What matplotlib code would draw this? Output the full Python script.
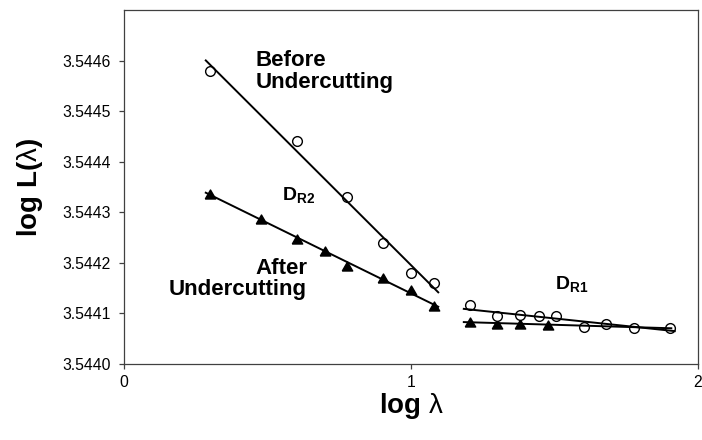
import numpy as np
import matplotlib
matplotlib.use('Agg')
import matplotlib.pyplot as plt

# 字体设置：Arial 风格，数学文本中的 λ 用正体
plt.rcParams['font.family'] = ['Liberation Sans', 'DejaVu Sans']
plt.rcParams['mathtext.fontset'] = 'custom'
plt.rcParams['mathtext.rm'] = 'Liberation Sans'
plt.rcParams['mathtext.it'] = 'Liberation Sans'
plt.rcParams['mathtext.bf'] = 'Liberation Sans:bold'

# D_R2 区段：切削前 / 切削后
before_x = [0.301, 0.602, 0.778, 0.903, 1.000, 1.079]
before_y = [3.54458, 3.54444, 3.54433, 3.54424, 3.54418, 3.54416]

after_x = [0.301, 0.477, 0.602, 0.699, 0.778, 0.903, 1.000, 1.079]
after_y = [3.544337, 3.544286, 3.544247, 3.544224, 3.544194, 3.544170, 3.544147, 3.544114]

# D_R1 区段
dr1_before_x = [1.204, 1.301, 1.380, 1.447, 1.505, 1.602, 1.681, 1.778, 1.903]
dr1_before_y = [3.544116, 3.544094, 3.544096, 3.544095, 3.544095, 3.544074, 3.544080, 3.544072, 3.544071]

dr1_after_x = [1.204, 1.301, 1.380, 1.477]
dr1_after_y = [3.544083, 3.544080, 3.544080, 3.544078]

y_ticks = [3.5440, 3.5441, 3.5442, 3.5443, 3.5444, 3.5445, 3.5446]
x_ticks = [0, 1, 2]

# 等边三角形标记
TRI = [(-1, -0.866), (1, -0.866), (0, 0.866), (-1, -0.866)]


def add_trendline(ax, x, y, back=0.016, forward=0.016):
    """线性拟合趋势线，可向前延伸"""
    k, b = np.polyfit(x, y, 1)
    xs = np.array([min(x) - back, max(x) + forward])
    ax.plot(xs, k * xs + b, color='black', linewidth=1.4, zorder=4)


def main():
    fig = plt.figure(figsize=(7.02, 4.40), dpi=100)
    ax = fig.add_axes([0.1766, 0.1727, 0.8177, 0.8046])

    # 切削后（实心三角）
    for xs, ys in [(after_x, after_y), (dr1_after_x, dr1_after_y)]:
        ax.plot(xs, ys, linestyle='none', marker=TRI, markersize=7.5,
                color='black', zorder=2)

    # 切削前（空心圆）
    for xs, ys in [(before_x, before_y), (dr1_before_x, dr1_before_y)]:
        ax.plot(xs, ys, linestyle='none', marker='o', markersize=7.0,
                markerfacecolor='white', markeredgecolor='black',
                markeredgewidth=1.0, zorder=3)

    # 趋势线
    add_trendline(ax, before_x, before_y)
    add_trendline(ax, after_x, after_y)
    add_trendline(ax, dr1_before_x, dr1_before_y, back=0.02)
    add_trendline(ax, dr1_after_x, dr1_after_y, back=0.02, forward=0.43)

    # 坐标轴
    ax.set_xlim(0, 2)
    ax.set_ylim(3.5440, 3.5447)
    ax.set_xticks(x_ticks)
    ax.set_xticklabels([str(t) for t in x_ticks])
    ax.set_yticks(y_ticks)
    ax.set_yticklabels(['%.4f' % t for t in y_ticks])
    ax.tick_params(direction='out', length=3.6, width=0.9, labelsize=11.3, color='#404040')
    ax.tick_params(axis='y', pad=6)
    ax.tick_params(axis='x', pad=4)
    for sp in ax.spines.values():
        sp.set_color('#404040')
        sp.set_linewidth(0.9)

    ax.set_xlabel(r'log $\lambda$', fontsize=20, fontweight='bold', labelpad=1)
    ax.set_ylabel(r'log L($\lambda$)', fontsize=20, fontweight='bold', labelpad=12)

    # 标注文字
    ax.text(0.46, 3.544578, 'Before\nUndercutting', fontsize=16, fontweight='bold',
            ha='left', va='center', linespacing=1.05)
    ax.text(0.638, 3.544168, 'After\nUndercutting', fontsize=16, fontweight='bold',
            ha='right', va='center', multialignment='right', linespacing=1.05)
    ax.text(0.549, 3.544324, r'$\mathbf{D}_{\mathbf{R2}}$', fontsize=14, ha='left', va='baseline')
    ax.text(1.502, 3.544149, r'$\mathbf{D}_{\mathbf{R1}}$', fontsize=14, ha='left', va='baseline')

    fig.savefig('out.png', dpi=100, facecolor='white')
    plt.close(fig)


if __name__ == '__main__':
    main()
